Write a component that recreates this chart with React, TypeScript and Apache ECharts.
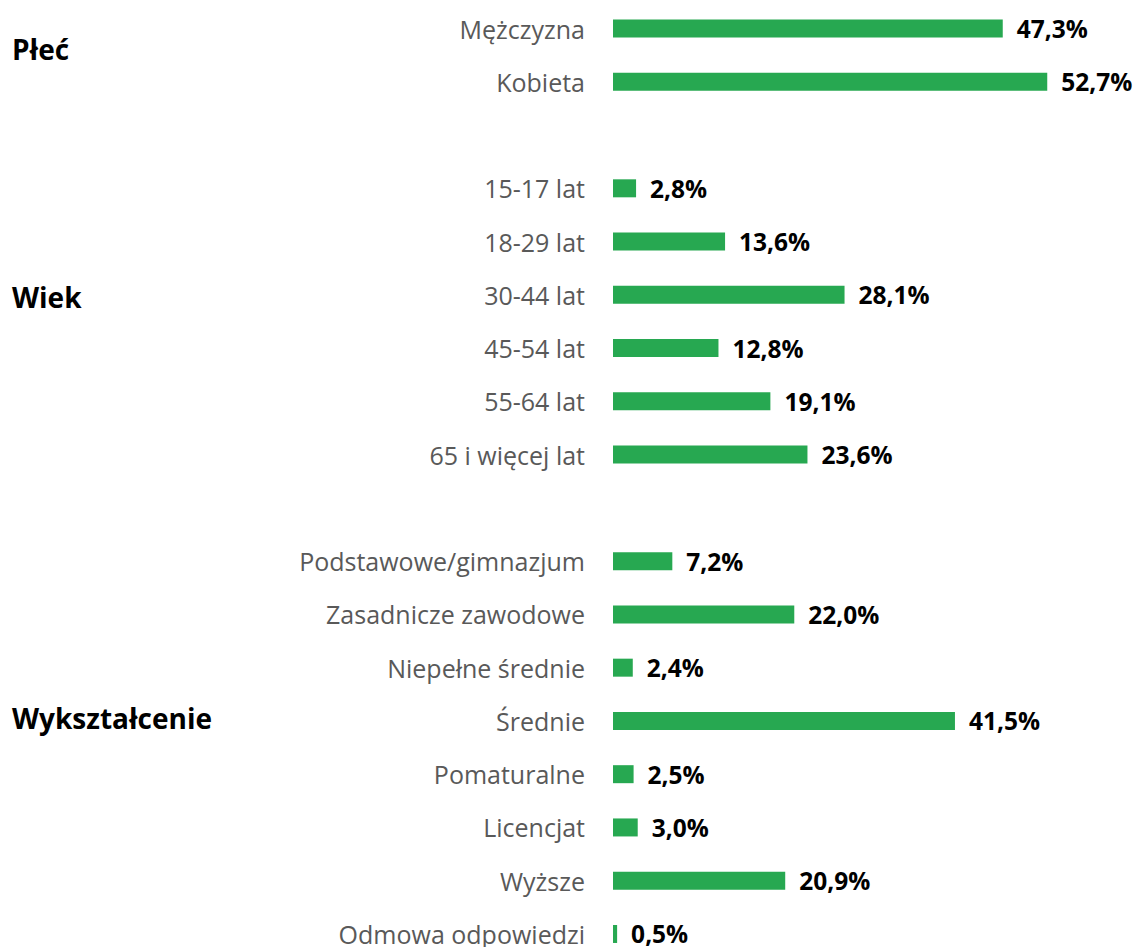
import React, { useEffect, useRef } from "react";
import * as echarts from "echarts";

const categories: string[] = [
  "Mężczyzna", "Kobieta", "",
  "15-17 lat", "18-29 lat", "30-44 lat", "45-54 lat", "55-64 lat", "65 i więcej lat", "",
  "Podstawowe/gimnazjum", "Zasadnicze zawodowe", "Niepełne średnie", "Średnie",
  "Pomaturalne", "Licencjat", "Wyższe", "Odmowa odpowiedzi",
];
const values: (number | null)[] = [
  47.3, 52.7, null,
  2.8, 13.6, 28.1, 12.8, 19.1, 23.6, null,
  7.2, 22.0, 2.4, 41.5, 2.5, 3.0, 20.9, 0.5,
];
const groupLabels: string[] = ["Płeć", "Wiek", "Wykształcenie"];
const groupLabelY: number[] = [49, 297, 718];

export default function App() {
  const ref = useRef<HTMLDivElement>(null);
  useEffect(() => {
    document.body.style.margin = "0";
    document.body.style.overflow = "hidden";
    const chart = echarts.init(ref.current!, undefined, { renderer: "svg" });
    chart.setOption({
      animation: false,
      backgroundColor: "#ffffff",
      grid: { left: 613, top: 1.9, width: 494.4, height: 958.7, containLabel: false },
      xAxis: { type: "value", min: 0, max: 60, show: false },
      yAxis: {
        type: "category",
        inverse: true,
        data: categories,
        axisLine: { show: false },
        axisTick: { show: false },
        splitLine: { show: false },
        axisLabel: {
          margin: 28,
          color: "#595959",
          fontFamily: "Open Sans",
          fontSize: 25,
          lineHeight: 22,
        },
      },
      series: [
        {
          type: "bar",
          data: values.map((v) => (v === null ? "-" : v)),
          barWidth: 18,
          itemStyle: { color: "#27A851" },
          label: {
            show: true,
            position: "right",
            distance: 14,
            color: "#000000",
            fontFamily: "Open Sans",
            fontWeight: "bold",
            fontSize: 24.5,
            lineHeight: 22,
            formatter: (p: any) => Number(p.value).toFixed(1).replace(".", ",") + "%",
          },
        },
      ],
      graphic: groupLabels.map((t, i) => ({
        type: "text",
        x: 12,
        y: groupLabelY[i],
        style: {
          text: t,
          fill: "#000000",
          font: "bold 28px 'Open Sans'",
          verticalAlign: "middle",
        },
      })),
    });
    return () => chart.dispose();
  }, []);
  return (
    <div style={{ width: 1139, height: 947, overflow: "hidden" }}>
      <div ref={ref} style={{ width: 1139, height: 962 }} />
    </div>
  );
}
